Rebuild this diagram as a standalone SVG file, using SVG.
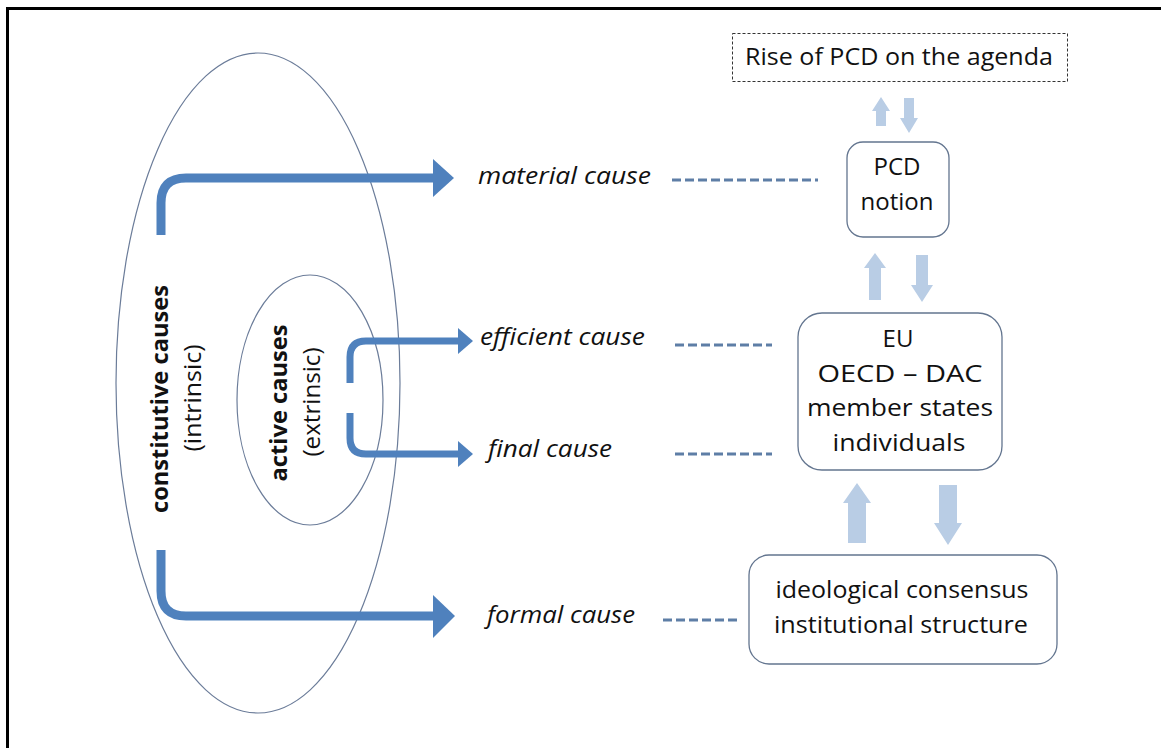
<svg xmlns="http://www.w3.org/2000/svg" width="1161" height="748" viewBox="0 0 1161 748">
<style>
text{font-family:"Open Sans","Liberation Sans",sans-serif;fill:#111;font-size:24px}
.it{font-style:italic;font-size:23px}
.b{font-weight:bold}
.c{text-anchor:middle}
.ell{fill:none;stroke:#6B7C99;stroke-width:1.2}
.thick{fill:none;stroke:#4F81BD;stroke-linecap:butt}
.head{fill:#4F81BD}
.light{fill:#B9CDE5}
.dash{fill:none;stroke:#5E7EA6;stroke-width:3;stroke-dasharray:9 4}
.box{fill:#fff;stroke:#63758F;stroke-width:1.3}
</style>
<rect x="0" y="0" width="1161" height="748" fill="#fff"/>
<path d="M7.5,748 V8.5 H1161" fill="none" stroke="#000" stroke-width="3"/>

<g id="outer-ellipse"><ellipse class="ell" cx="258" cy="383" rx="142" ry="330"/></g>
<g id="inner-ellipse"><ellipse class="ell" cx="310" cy="400" rx="73" ry="125"/></g>

<g id="constitutive-label">
<text class="b c" transform="translate(168,399) rotate(-90)" textLength="228" lengthAdjust="spacingAndGlyphs">constitutive causes</text>
<text class="c" transform="translate(201,398) rotate(-90)" textLength="107" lengthAdjust="spacingAndGlyphs">(intrinsic)</text>
</g>
<g id="active-label">
<text class="b c" transform="translate(287,403) rotate(-90)" textLength="157" lengthAdjust="spacingAndGlyphs">active causes</text>
<text class="c" transform="translate(320,402) rotate(-90)" textLength="109" lengthAdjust="spacingAndGlyphs">(extrinsic)</text>
</g>

<g id="connectors">
<path class="thick" stroke-width="9" d="M161,235 V203 Q161,178 186,178 H434"/>
<polygon class="head" points="433,159 454,178 433,197"/>
<path class="thick" stroke-width="9" d="M161,550 V591 Q161,616 186,616 H434"/>
<polygon class="head" points="433,595 455,616 433,638"/>
<path class="thick" stroke-width="7" d="M350,383 V357 Q350,341 366,341 H459"/>
<polygon class="head" points="458,328 473,341 458,354"/>
<path class="thick" stroke-width="7" d="M350,413 V438 Q350,454 366,454 H459"/>
<polygon class="head" points="458,441 473,454 458,467"/>

<line class="dash" x1="672" y1="180" x2="818" y2="180"/>
<line class="dash" x1="675" y1="345" x2="772" y2="345"/>
<line class="dash" x1="675" y1="454" x2="772" y2="454"/>
<line class="dash" x1="663" y1="620" x2="737" y2="620"/>

<polygon class="light" points="881,97 890,111 886,111 886,126 876,126 876,111 872,111"/>
<polygon class="light" points="909,133 918,118 914,118 914,98 904,98 904,118 900,118"/>
<polygon class="light" points="875,253 886,268 881,268 881,300 869,300 869,268 864,268"/>
<polygon class="light" points="922,302 933,285 928,285 928,255 916,255 916,285 911,285"/>
<polygon class="light" points="857,483 871,503 866,503 866,543 848,543 848,503 843,503"/>
<polygon class="light" points="948,545 962,523 957,523 957,485 939,485 939,523 934,523"/>
</g>

<g id="material-cause"><text class="it" x="478" y="184" textLength="173" lengthAdjust="spacingAndGlyphs">material cause</text></g>
<g id="efficient-cause"><text class="it" x="480" y="345" textLength="165" lengthAdjust="spacingAndGlyphs">efficient cause</text></g>
<g id="final-cause"><text class="it" x="488" y="457" textLength="124" lengthAdjust="spacingAndGlyphs">final cause</text></g>
<g id="formal-cause"><text class="it" x="487" y="623" textLength="148" lengthAdjust="spacingAndGlyphs">formal cause</text></g>

<g id="rise-agenda">
<rect x="732.5" y="33.5" width="335" height="48" fill="#fff" stroke="#333" stroke-width="1" stroke-dasharray="3 2"/>
<text class="c" x="899" y="65" textLength="308" lengthAdjust="spacingAndGlyphs">Rise of PCD on the agenda</text>
</g>
<g id="pcd-notion">
<rect class="box" x="847" y="142" width="102" height="95" rx="16"/>
<text class="c" x="897" y="175">PCD</text>
<text class="c" x="897" y="210">notion</text>
</g>
<g id="actors">
<rect class="box" x="798" y="313" width="204" height="157" rx="24"/>
<text class="c" x="898" y="347">EU</text>
<text class="c" x="900" y="382" textLength="165" lengthAdjust="spacingAndGlyphs">OECD – DAC</text>
<text class="c" x="900" y="416" textLength="186" lengthAdjust="spacingAndGlyphs">member states</text>
<text class="c" x="899" y="451" textLength="133" lengthAdjust="spacingAndGlyphs">individuals</text>
</g>
<g id="structure">
<rect class="box" x="749" y="555" width="308" height="109" rx="20"/>
<text class="c" x="902" y="598" textLength="253" lengthAdjust="spacingAndGlyphs">ideological consensus</text>
<text class="c" x="901" y="633" textLength="254" lengthAdjust="spacingAndGlyphs">institutional structure</text>
</g>
</svg>
